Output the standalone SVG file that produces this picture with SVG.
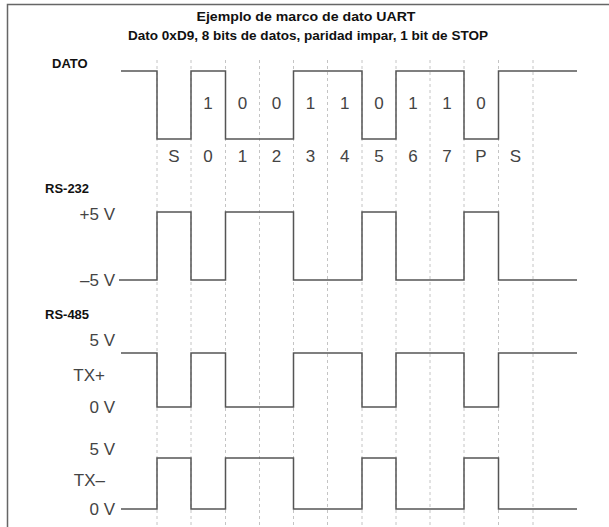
<svg xmlns="http://www.w3.org/2000/svg" width="609" height="527" viewBox="0 0 609 527">
<style>
.title{font-family:"Liberation Sans",Arial,sans-serif;font-weight:bold;font-size:13px;fill:#111;text-anchor:middle}
.lbl{font-family:"Liberation Sans",Arial,sans-serif;font-weight:bold;font-size:13px;fill:#111}
.t{font-family:"Liberation Sans",Arial,sans-serif;font-size:17px;fill:#444}
.c{text-anchor:middle}
.r{text-anchor:end}
.wave{fill:none;stroke:#555;stroke-width:1.5}
.grid{stroke:#c4c4c4;stroke-width:1;stroke-dasharray:3 3}
</style>
<rect width="609" height="527" fill="#fff"/>
<rect x="7.5" y="4.5" width="640" height="560" fill="none" stroke="#666" stroke-width="1.5"/>
<text class="title" x="306" y="21" textLength="219" lengthAdjust="spacingAndGlyphs">Ejemplo de marco de dato UART</text>
<text class="title" x="308" y="40" textLength="360" lengthAdjust="spacingAndGlyphs">Dato 0xD9, 8 bits de datos, paridad impar, 1 bit de STOP</text>
<g id="grid">
<line class="grid" x1="157" y1="60" x2="157" y2="527"/>
<line class="grid" x1="191" y1="60" x2="191" y2="527"/>
<line class="grid" x1="225.5" y1="60" x2="225.5" y2="527"/>
<line class="grid" x1="259.5" y1="60" x2="259.5" y2="527"/>
<line class="grid" x1="293.5" y1="60" x2="293.5" y2="527"/>
<line class="grid" x1="327.5" y1="60" x2="327.5" y2="527"/>
<line class="grid" x1="362" y1="60" x2="362" y2="527"/>
<line class="grid" x1="396" y1="60" x2="396" y2="527"/>
<line class="grid" x1="430" y1="60" x2="430" y2="527"/>
<line class="grid" x1="464" y1="60" x2="464" y2="527"/>
<line class="grid" x1="498.5" y1="60" x2="498.5" y2="527"/>
<line class="grid" x1="533" y1="60" x2="533" y2="527"/>
</g>
<g id="dato">
<text class="lbl" x="52" y="68">DATO</text>
<path class="wave" d="M121,71 H157 V139 H191 V71 H225.5 V139 H293.5 V71 H362 V139 H396 V71 H464 V139 H498.5 V71 H577"/>
<g class="t c">
<text x="208" y="109">1</text>
<text x="242.5" y="109">0</text>
<text x="276.5" y="109">0</text>
<text x="310.5" y="109">1</text>
<text x="344.75" y="109">1</text>
<text x="379" y="109">0</text>
<text x="413" y="109">1</text>
<text x="447" y="109">1</text>
<text x="481" y="109">0</text>
<text x="174" y="162">S</text>
<text x="208" y="162">0</text>
<text x="242.5" y="162">1</text>
<text x="276.5" y="162">2</text>
<text x="310.5" y="162">3</text>
<text x="344.75" y="162">4</text>
<text x="379" y="162">5</text>
<text x="413" y="162">6</text>
<text x="447" y="162">7</text>
<text x="481" y="162">P</text>
<text x="515.5" y="162">S</text>
</g>
</g>
<g id="rs232">
<text class="lbl" x="45" y="193">RS-232</text>
<text class="t r" x="115" y="220">+5 V</text>
<text class="t r" x="115" y="286">–5 V</text>
<path class="wave" d="M119,280 H157 V212 H191 V280 H225.5 V212 H293.5 V280 H362 V212 H396 V280 H464 V212 H498.5 V280 H577"/>
</g>
<g id="rs485-txp">
<text class="lbl" x="45" y="319">RS-485</text>
<text class="t r" x="115" y="346">5 V</text>
<text class="t r" x="105" y="381">TX+</text>
<text class="t r" x="115" y="413">0 V</text>
<path class="wave" d="M121,353 H157 V407 H191 V353 H225.5 V407 H293.5 V353 H362 V407 H396 V353 H464 V407 H498.5 V353 H577"/>
</g>
<g id="rs485-txn">
<text class="t r" x="115" y="455">5 V</text>
<text class="t r" x="105" y="486">TX–</text>
<text class="t r" x="115" y="515">0 V</text>
<path class="wave" d="M121,509 H157 V458 H191 V509 H225.5 V458 H293.5 V509 H362 V458 H396 V509 H464 V458 H498.5 V509 H577"/>
</g>
</svg>
